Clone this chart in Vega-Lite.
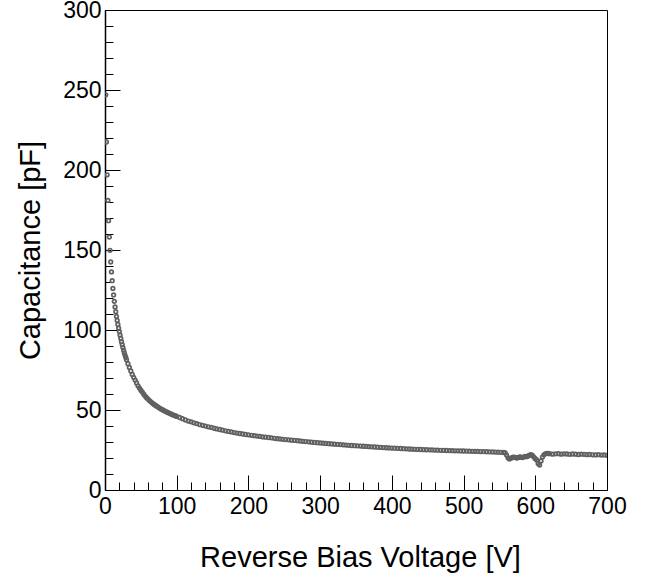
{
  "$schema": "https://vega.github.io/schema/vega-lite/v6.json",
  "width": 502,
  "height": 480,
  "autosize": {"type": "none"},
  "padding": {"left": 105, "top": 10, "right": 40, "bottom": 87},
  "background": "white",
  "config": {
    "view": {"stroke": "#000000", "strokeWidth": 1},
    "font": "Liberation Sans"
  },
  "data": {
    "values": [
      {"v":1,"c":247},{"v":2,"c":217.5},{"v":3,"c":197},{"v":4,"c":181},{"v":5,"c":168.3},{"v":6,"c":158.1},{"v":7,"c":149.8},{"v":8,"c":142.5},{"v":9,"c":136.3},{"v":10,"c":130.8},
      {"v":11,"c":126},{"v":12,"c":121.9},{"v":13,"c":117.9},{"v":14,"c":114.4},{"v":15,"c":111.4},{"v":16,"c":108.5},{"v":17,"c":106},{"v":18,"c":103.5},{"v":19,"c":101.2},{"v":20,"c":99},
      {"v":21,"c":96.8},{"v":22,"c":94.7},{"v":23,"c":92.7},{"v":24,"c":90.8},{"v":25,"c":89},{"v":26,"c":87.3},{"v":27,"c":85.7},{"v":28,"c":84.2},{"v":29,"c":82.8},{"v":30,"c":81.4},
      {"v":32,"c":78.9},{"v":34,"c":76.6},{"v":36,"c":74.4},{"v":38,"c":72.2},{"v":40,"c":70.4},{"v":42,"c":68.7},{"v":44,"c":66.9},{"v":46,"c":65.1},{"v":48,"c":63.7},{"v":50,"c":62.4},
      {"v":52,"c":61.2},{"v":54,"c":59.9},{"v":56,"c":58.7},{"v":58,"c":57.7},{"v":60,"c":56.8},{"v":62,"c":55.9},{"v":64,"c":55.1},{"v":66,"c":54.3},{"v":68,"c":53.6},{"v":70,"c":53.0},
      {"v":72,"c":52.4},{"v":74,"c":51.8},{"v":76,"c":51.2},{"v":78,"c":50.7},{"v":80,"c":50.2},{"v":82,"c":49.7},{"v":84,"c":49.2},{"v":86,"c":48.8},{"v":88,"c":48.3},{"v":90,"c":47.9},
      {"v":92,"c":47.5},{"v":94,"c":47.1},{"v":96,"c":46.7},{"v":98,"c":46.4},{"v":100,"c":46.0},
      {"v":104,"c":45.3},{"v":108,"c":44.6},{"v":112,"c":43.8},{"v":116,"c":43.1},{"v":120,"c":42.6},{"v":124,"c":42.0},{"v":128,"c":41.5},{"v":132,"c":40.9},{"v":136,"c":40.4},{"v":140,"c":39.95},
      {"v":144,"c":39.5},{"v":148,"c":39.1},{"v":152,"c":38.6},{"v":156,"c":38.2},{"v":160,"c":37.8},{"v":164,"c":37.4},{"v":168,"c":37.0},{"v":172,"c":36.6},{"v":176,"c":36.3},{"v":180,"c":35.9},
      {"v":184,"c":35.6},{"v":188,"c":35.3},{"v":192,"c":35.0},{"v":196,"c":34.7},{"v":200,"c":34.5},{"v":204,"c":34.2},{"v":208,"c":33.95},{"v":212,"c":33.7},{"v":216,"c":33.5},{"v":220,"c":33.2},
      {"v":224,"c":33.0},{"v":228,"c":32.8},{"v":232,"c":32.6},{"v":236,"c":32.3},{"v":240,"c":32.1},{"v":244,"c":31.9},{"v":248,"c":31.7},{"v":252,"c":31.52},{"v":256,"c":31.34},{"v":260,"c":31.16},
      {"v":264,"c":30.98},{"v":268,"c":30.8},{"v":272,"c":30.63},{"v":276,"c":30.45},{"v":280,"c":30.27},{"v":284,"c":30.09},{"v":288,"c":29.91},{"v":292,"c":29.73},{"v":296,"c":29.56},{"v":300,"c":29.41},
      {"v":304,"c":29.26},{"v":308,"c":29.11},{"v":312,"c":28.96},{"v":316,"c":28.82},{"v":320,"c":28.67},{"v":324,"c":28.52},{"v":328,"c":28.38},{"v":332,"c":28.23},{"v":336,"c":28.08},{"v":340,"c":27.94},
      {"v":344,"c":27.82},{"v":348,"c":27.7},{"v":352,"c":27.58},{"v":356,"c":27.46},{"v":360,"c":27.34},{"v":364,"c":27.22},{"v":368,"c":27.1},{"v":372,"c":26.98},{"v":376,"c":26.86},{"v":380,"c":26.74},
      {"v":384,"c":26.62},{"v":388,"c":26.5},{"v":392,"c":26.4},{"v":396,"c":26.31},{"v":400,"c":26.21},{"v":404,"c":26.12},{"v":408,"c":26.02},{"v":412,"c":25.93},{"v":416,"c":25.83},{"v":420,"c":25.73},
      {"v":424,"c":25.64},{"v":428,"c":25.54},{"v":432,"c":25.45},{"v":436,"c":25.37},{"v":440,"c":25.3},{"v":444,"c":25.23},{"v":448,"c":25.16},{"v":452,"c":25.09},{"v":456,"c":25.03},{"v":460,"c":24.96},
      {"v":464,"c":24.89},{"v":468,"c":24.82},{"v":472,"c":24.75},{"v":476,"c":24.69},{"v":480,"c":24.62},{"v":484,"c":24.56},{"v":488,"c":24.51},{"v":492,"c":24.46},{"v":496,"c":24.41},{"v":500,"c":24.36},
      {"v":504,"c":24.3},{"v":508,"c":24.25},{"v":512,"c":24.2},{"v":516,"c":24.15},{"v":520,"c":24.1},{"v":524,"c":24.04},{"v":528,"c":23.99},{"v":532,"c":23.92},{"v":536,"c":23.85},{"v":540,"c":23.78},
      {"v":544,"c":23.71},{"v":548,"c":23.64},{"v":552,"c":23.57},{"v":556,"c":23.5},{"v":558,"c":23.2},{"v":560,"c":21.8},{"v":562,"c":20.1},{"v":564,"c":19.4},{"v":566,"c":19.8},{"v":568,"c":20.3},
      {"v":570,"c":20.6},{"v":572,"c":20.4},{"v":574,"c":20.0},{"v":576,"c":20.2},{"v":578,"c":20.7},{"v":580,"c":20.5},{"v":582,"c":20.3},{"v":584,"c":20.6},{"v":586,"c":21.0},{"v":588,"c":20.8},
      {"v":590,"c":21.3},{"v":592,"c":21.8},{"v":594,"c":22.1},{"v":596,"c":21.6},{"v":598,"c":20.6},{"v":600,"c":19.6},{"v":602,"c":18.8},{"v":604,"c":16.5},{"v":606,"c":15.6},{"v":608,"c":18.2},
      {"v":610,"c":20.6},{"v":612,"c":22.0},{"v":614,"c":22.6},{"v":616,"c":22.9},{"v":618,"c":22.8},{"v":620,"c":22.7},{"v":624,"c":22.4},{"v":628,"c":22.6},{"v":632,"c":22.7},{"v":636,"c":22.4},
      {"v":640,"c":22.6},{"v":644,"c":22.5},{"v":648,"c":22.3},{"v":652,"c":22.5},{"v":656,"c":22.4},{"v":660,"c":22.2},{"v":664,"c":22.4},{"v":668,"c":22.3},{"v":672,"c":22.1},{"v":676,"c":22.2},
      {"v":680,"c":22.0},{"v":684,"c":21.9},{"v":688,"c":22.1},{"v":692,"c":21.8},{"v":696,"c":21.9},{"v":700,"c":21.7}
    ]
  },
  "mark": {"type": "point", "shape": "circle", "filled": false, "size": 13, "strokeWidth": 1.7, "color": "#606060", "opacity": 1, "clip": true},
  "encoding": {
    "x": {
      "field": "v",
      "type": "quantitative",
      "scale": {"domain": [0, 700], "nice": false, "zero": false},
      "axis": {
        "title": "Reverse Bias Voltage [V]",
        "titleFont": "Liberation Sans",
        "titleFontSize": 29,
        "titleFontWeight": "normal",
        "titleColor": "#000000",
        "titleX": 255,
        "titleY": 76,
        "titleAlign": "center",
        "titleBaseline": "alphabetic",
        "values": [0,20,40,60,80,100,120,140,160,180,200,220,240,260,280,300,320,340,360,380,400,420,440,460,480,500,520,540,560,580,600,620,640,660,680,700],
        "labelExpr": "datum.value % 100 === 0 ? datum.label : ''",
        "format": "d",
        "labelFont": "Liberation Sans",
        "labelFontSize": 23,
        "labelColor": "#000000",
        "labelBaseline": "alphabetic",
        "labelAlign": "center",
        "labelFlush": false,
        "labelOverlap": false,
        "labelPadding": 38,
        "tickSize": {"condition": {"test": "datum.value % 100 === 0", "value": -15}, "value": -8},
        "tickColor": "#000000",
        "tickWidth": 1,
        "domainColor": "#000000",
        "domainWidth": 1,
        "grid": false
      }
    },
    "y": {
      "field": "c",
      "type": "quantitative",
      "scale": {"domain": [0, 300], "nice": false, "zero": false},
      "axis": {
        "title": "Capacitance [pF]",
        "titleFont": "Liberation Sans",
        "titleFontSize": 29,
        "titleFontWeight": "normal",
        "titleColor": "#000000",
        "titleAngle": 270,
        "titleX": -66,
        "titleY": 240,
        "titleAlign": "center",
        "titleBaseline": "alphabetic",
        "values": [0,10,20,30,40,50,60,70,80,90,100,110,120,130,140,150,160,170,180,190,200,210,220,230,240,250,260,270,280,290,300],
        "labelExpr": "datum.value % 50 === 0 ? datum.label : ''",
        "format": "d",
        "labelFont": "Liberation Sans",
        "labelFontSize": 23,
        "labelColor": "#000000",
        "labelBaseline": "middle",
        "labelAlign": "right",
        "labelFlush": false,
        "labelOverlap": false,
        "labelPadding": 19,
        "tickSize": {"condition": {"test": "datum.value % 50 === 0", "value": -15}, "value": -8},
        "tickColor": "#000000",
        "tickWidth": 1,
        "domainColor": "#000000",
        "domainWidth": 1.5,
        "grid": false
      }
    }
  }
}
